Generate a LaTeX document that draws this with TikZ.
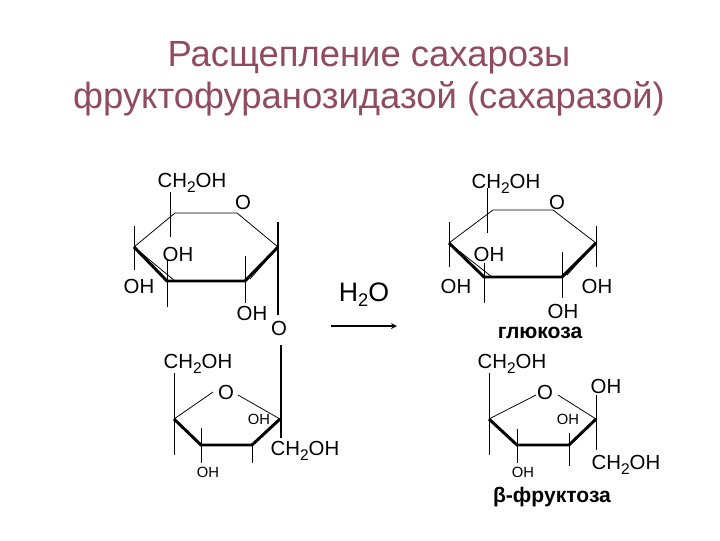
\documentclass[tikz,border=0pt]{standalone}
\usepackage{fontspec}
\setmainfont{Liberation Sans}
\definecolor{titlerose}{RGB}{145,75,95}
\newcommand{\subtwo}[1]{\raisebox{-3.5pt}{\fontsize{#1}{#1}\selectfont 2}}
\newcommand{\chtwo}{CH\subtwo{11}OH}
\tikzset{
  thinbond/.style={line width=0.55pt},
  vbond/.style={line width=0.7pt},
  boldbond/.style={line width=2.1pt,line join=miter},
  lab/.style={font=\fontsize{14.5}{16}\selectfont,inner sep=0pt},
  smalllab/.style={font=\fontsize{10.5}{12}\selectfont,inner sep=0pt},
  namelab/.style={font=\fontsize{15}{15}\selectfont\bfseries,inner sep=0pt},
  titlelab/.style={font=\fontsize{25.9}{30}\selectfont,text=titlerose,inner sep=0pt},
}
\begin{document}
\begin{tikzpicture}[x=0.025cm,y=-0.025cm,>=stealth]
  \useasboundingbox (0,0) rectangle (720,540);

  % Title
  \node[titlelab] (title1) at (369,58) {Расщепление сахарозы};
  \node[titlelab] (title2) at (369,99) {фруктофуранозидазой (сахаразой)};

  % Left six-membered ring
  \coordinate (A1) at (175,213);
  \coordinate (A2) at (237,213);
  \coordinate (A3) at (278,247);
  \coordinate (A4) at (245,281);
  \coordinate (A5) at (167,281);
  \coordinate (A6) at (134,247);
  \draw[thinbond] (A5) ++(8,0) -- (A6) -- (A1) -- (A2) -- (A3) -- (250,279);
  \draw[boldbond] (A6) -- (A5) -- (A4) -- (A3);
  \draw[vbond] (170,192) -- (170,237);
  \draw[vbond] (134,226) -- (134,270);
  \draw[vbond] (167,260) -- (167,307);
  \draw[vbond] (245,256) -- (245,303);
  \draw[line width=1.3pt] (278,222) -- (278,315);
  \node[lab] (ach) at (192,183) {\chtwo};
  \node[lab] (ao) at (243,202) {O};
  \node[lab] (aoh1) at (178,254) {OH};
  \node[lab] (aoh2) at (139,286) {OH};
  \node[lab] (aoh3) at (252,313) {OH};
  \node[lab] (bridge) at (279,328) {O};

  % Left five-membered ring
  \coordinate (B1) at (174,419);
  \coordinate (B2) at (201,445);
  \coordinate (B3) at (252,445);
  \coordinate (B4) at (280,419);
  \coordinate (BL) at (213,392);
  \coordinate (BR) at (238,395);
  \draw[thinbond] (B1) -- (BL);
  \draw[thinbond] (BR) -- (B4);
  \draw[boldbond] (B1) -- (B2) -- (B3) -- (B4);
  \draw[vbond] (174,373) -- (174,455);
  \draw[vbond] (201,428) -- (201,463);
  \draw[vbond] (252,443) -- (252,463);
  \draw[line width=1.3pt] (281,345) -- (281,438);
  \node[lab] (bo) at (226,392) {O};
  \node[lab] (bch1) at (198,364) {\chtwo};
  \node[lab] (bch2) at (305,451) {\chtwo};
  \node[smalllab] (boh1) at (259,419) {OH};
  \node[smalllab] (boh2) at (208,472) {OH};

  % Water and arrow
  \node[font=\fontsize{19}{20}\selectfont,inner sep=0pt] (water) at (364,295) {H\subtwo{13}O};
  \coordinate (arrS) at (331,326);
  \coordinate (arrE) at (397,326);
  \draw[->,line width=0.9pt] (arrS) -- (arrE);

  % Glucose
  \coordinate (C1) at (493,210);
  \coordinate (C2) at (553,210);
  \coordinate (C3) at (596,243);
  \coordinate (C4) at (562,277);
  \coordinate (C5) at (484,277);
  \coordinate (C6) at (449,243);
  \draw[thinbond] (C5) ++(8,0) -- (C6) -- (C1) -- (C2) -- (C3) -- (567,275);
  \draw[boldbond] (C6) -- (C5) -- (C4) -- (C3);
  \draw[vbond] (487,188) -- (487,233);
  \draw[vbond] (449,222) -- (449,267);
  \draw[vbond] (484,263) -- (484,303);
  \draw[vbond] (562,252) -- (562,298);
  \draw[vbond] (596,226) -- (596,267);
  \node[lab] (cch) at (506,184) {\chtwo};
  \node[lab] (co) at (557,202) {O};
  \node[lab] (coh1) at (489,254) {OH};
  \node[lab] (coh2) at (456,286) {OH};
  \node[lab] (coh3) at (597,286) {OH};
  \node[lab] (coh4) at (563,311) {OH};
  \node[namelab] (glucose) at (540,333) {глюкоза};

  % Fructose
  \coordinate (D1) at (489,419);
  \coordinate (D2) at (517,445);
  \coordinate (D3) at (569,445);
  \coordinate (D4) at (596,419);
  \coordinate (DL) at (536,395);
  \coordinate (DR) at (558,395);
  \draw[thinbond] (D1) -- (DL);
  \draw[thinbond] (DR) -- (D4);
  \draw[boldbond] (D1) -- (D2) -- (D3) -- (D4);
  \draw[vbond] (489,373) -- (489,455);
  \draw[vbond] (517,429) -- (517,463);
  \draw[vbond] (569,433) -- (569,466);
  \draw[vbond] (596,395) -- (596,450);
  \node[lab] (dO) at (545,392) {O};
  \node[lab] (dch1) at (512,364) {\chtwo};
  \node[lab] (dch2) at (626,465) {\chtwo};
  \node[lab] (doh1) at (606,386) {OH};
  \node[smalllab] (doh2) at (568,419) {OH};
  \node[smalllab] (doh3) at (523,472) {OH};
  \node[namelab] (fructose) at (552,497) {β-фруктоза};
\end{tikzpicture}
\end{document}
